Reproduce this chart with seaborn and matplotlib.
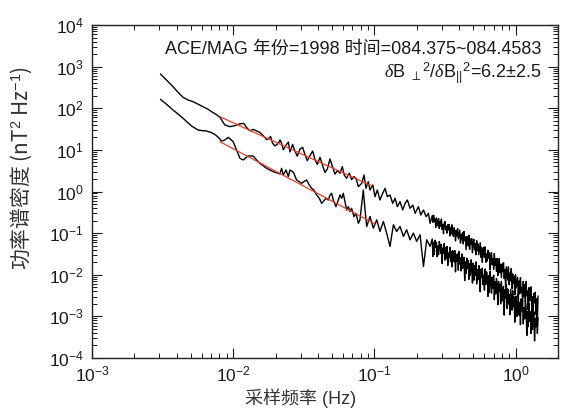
import numpy as np
import pandas as pd
import matplotlib
matplotlib.use("Agg")
import matplotlib.pyplot as plt
import seaborn as sns
from matplotlib.ticker import FixedLocator, LogLocator, NullFormatter

# ---------------- data (log10 values) ----------------
upper_log_freq = [
    -2.515, -2.47, -2.426, -2.39, -2.355, -2.32, -2.284, -2.25, -2.213, -2.18, -2.153, -2.12, -2.094,
    -2.059, -2.023, -1.988, -1.952, -1.924, -1.905, -1.881, -1.858, -1.834, -1.810, -1.787, -1.763,
    -1.747, -1.735, -1.721, -1.704, -1.680, -1.668, -1.657, -1.645, -1.626, -1.609, -1.598,
    -1.579, -1.563, -1.546, -1.527, -1.508, -1.492, -1.475, -1.456, -1.437, -1.421, -1.404, -1.385,
    -1.366, -1.350, -1.333, -1.314, -1.295, -1.279, -1.262, -1.243, -1.227, -1.213, -1.196, -1.177,
    -1.161, -1.144,
    -1.130, -1.113, -1.089, -1.073, -1.059, -1.043, -1.031, -1.011, -0.995, -0.979, -0.960, -0.941,
    -0.924, -0.908, -0.889, -0.870, -0.853, -0.837, -0.818, -0.799, -0.782, -0.766, -0.747, -0.728,
    -0.711, -0.688, -0.671, -0.652, -0.633, -0.617, -0.605]
upper_log_psd = [
    2.823, 2.67, 2.518, 2.38, 2.263, 2.20, 2.158, 2.10, 2.037, 1.98, 1.917, 1.85, 1.783,
    1.598, 1.557, 1.583, 1.627, 1.634, 1.535, 1.458, 1.492, 1.455, 1.418, 1.342, 1.245,
    1.281, 1.322, 1.160, 1.094, 1.157, 1.238, 1.161, 1.003, 1.113, 1.187, 0.950,
    1.131, 0.976, 0.850, 1.020, 1.061, 0.896, 0.740, 0.861, 0.971, 0.777, 0.650, 0.821,
    0.622, 0.457, 0.540, 0.781, 0.582, 0.417, 0.501, 0.441, 0.597, 0.395, 0.319, 0.439,
    0.285, 0.358,
    0.317, 0.116, 0.197, 0.397, 0.077, 0.236, 0.036, 0.157, -0.124, 0.036, -0.204, -0.043,
    0.077, -0.124, -0.084, -0.283, -0.163, -0.364, -0.244, -0.444, -0.283, -0.204, -0.404, -0.324,
    -0.524, -0.364, -0.564, -0.444, -0.605, -0.524, -0.764]

lower_log_freq = [
    -2.515, -2.47, -2.426, -2.39, -2.355, -2.325, -2.295, -2.27, -2.248, -2.22, -2.189, -2.153,
    -2.125, -2.106, -2.082, -2.067, -2.052, -2.035,
    -2.000, -1.976, -1.952, -1.929, -1.894, -1.858, -1.834, -1.811, -1.763, -1.716, -1.669,
    -1.657, -1.645, -1.626, -1.609,
    -1.598, -1.579, -1.570, -1.551, -1.532, -1.515, -1.499, -1.480, -1.461, -1.444, -1.428, -1.409,
    -1.390, -1.373, -1.362, -1.343, -1.326, -1.314, -1.302, -1.291, -1.272, -1.255, -1.243, -1.231,
    -1.220, -1.208, -1.196, -1.184, -1.173, -1.161, -1.144, -1.130, -1.113, -1.102,
    -1.078, -1.066, -1.054, -1.031, -1.007, -0.983, -0.960, -0.936, -0.913, -0.889, -0.865, -0.842,
    -0.818, -0.794, -0.771, -0.747, -0.723, -0.700, -0.676, -0.652, -0.629, -0.605]
lower_log_psd = [
    2.215, 2.09, 1.958, 1.86, 1.759, 1.665, 1.574, 1.52, 1.478, 1.462, 1.454, 1.413,
    1.36, 1.302, 1.214, 1.225, 1.254, 1.302,
    1.197, 0.997, 0.798, 0.757, 0.853, 0.853, 0.757, 0.677, 0.557, 0.476, 0.421,
    0.557, 0.397, 0.517, 0.357,
    0.517, 0.477, 0.437, 0.277, 0.237, 0.197, 0.237, 0.277, 0.157, 0.077, 0.037, -0.083,
    -0.163, -0.284, -0.244, -0.163, -0.204, -0.083, -0.043, -0.204, -0.364, -0.204, -0.083, -0.163,
    -0.043, -0.244, -0.444, -0.364, -0.484, -0.404, -0.604, -0.524, -0.764, -0.684,
    0.037, -0.44, -0.84, -0.60, -0.88, -0.68, -0.96, -0.72, -1.00, -1.32, -0.80, -0.96,
    -0.84, -1.08, -0.92, -1.16, -1.00, -1.20, -1.04, -1.80, -1.16, -1.32]

# dense high-frequency part (shared frequency bins, log10 Hz)
dense_log_freq = [
    -0.590, -0.585, -0.580, -0.575, -0.570, -0.565, -0.560, -0.555, -0.550, -0.545,
    -0.540, -0.535, -0.530, -0.525, -0.520, -0.515, -0.510, -0.505, -0.500, -0.495,
    -0.490, -0.485, -0.480, -0.475, -0.470, -0.465, -0.460, -0.455, -0.450, -0.445,
    -0.440, -0.435, -0.430, -0.425, -0.420, -0.415, -0.410, -0.405, -0.400, -0.395,
    -0.390, -0.385, -0.380, -0.375, -0.370, -0.365, -0.360, -0.355, -0.350, -0.345,
    -0.340, -0.335, -0.330, -0.325, -0.320, -0.315, -0.310, -0.305, -0.300, -0.295,
    -0.290, -0.285, -0.280, -0.275, -0.270, -0.265, -0.260, -0.255, -0.250, -0.245,
    -0.240, -0.235, -0.230, -0.225, -0.220, -0.215, -0.210, -0.205, -0.200, -0.195,
    -0.190, -0.185, -0.180, -0.175, -0.170, -0.165, -0.160, -0.155, -0.150, -0.145,
    -0.140, -0.135, -0.130, -0.125, -0.120, -0.115, -0.110, -0.105, -0.100, -0.095,
    -0.090, -0.085, -0.080, -0.075, -0.070, -0.065, -0.060, -0.055, -0.050, -0.045,
    -0.040, -0.035, -0.030, -0.025, -0.020, -0.015, -0.010, -0.005, 0.000, 0.005,
    0.010, 0.015, 0.020, 0.025, 0.030, 0.035, 0.040, 0.045, 0.050, 0.055,
    0.060, 0.065, 0.070, 0.075, 0.080, 0.085, 0.090, 0.095, 0.100, 0.105,
    0.110, 0.115, 0.120, 0.125, 0.130, 0.135, 0.140, 0.145, 0.150, 0.155,
    0.160]
upper_dense_psd = [
    -0.58, -0.74, -0.57, -0.72, -0.66, -0.86, -0.63, -0.72, -0.82, -0.65,
    -0.89, -0.72, -0.83, -0.66, -0.91, -0.79, -1.01, -0.77, -0.72, -0.92,
    -0.83, -1.00, -0.80, -0.92, -0.79, -1.07, -0.87, -1.02, -0.80, -0.99,
    -1.08, -0.87, -0.96, -1.19, -0.93, -1.07, -0.89, -1.14, -1.03, -0.93,
    -1.24, -1.03, -1.16, -0.99, -1.26, -0.96, -1.18, -1.09, -1.40, -1.08,
    -1.15, -1.31, -1.05, -1.39, -1.14, -1.26, -1.13, -1.47, -1.23, -1.15,
    -1.40, -1.25, -1.52, -1.18, -1.42, -1.26, -1.52, -1.38, -1.23, -1.58,
    -1.34, -1.70, -1.41, -1.34, -1.58, -1.33, -1.70, -1.50, -1.67, -1.41,
    -1.60, -1.47, -1.88, -1.54, -1.47, -1.76, -1.61, -1.87, -1.49, -1.78,
    -1.62, -1.92, -1.61, -2.02, -1.75, -1.61, -1.95, -1.75, -2.07, -1.74,
    -1.93, -1.71, -2.09, -1.87, -2.29, -1.81, -1.97, -2.13, -1.81, -2.24,
    -1.96, -2.15, -1.85, -2.34, -1.98, -2.20, -2.04, -2.48, -2.00, -2.32,
    -2.18, -2.06, -2.53, -2.15, -2.46, -2.07, -2.41, -2.32, -2.66, -2.16,
    -2.53, -2.24, -2.65, -2.16, -2.51, -2.39, -2.85, -2.31, -2.63, -2.40,
    -2.29, -2.78, -2.53, -2.91, -2.45, -2.67, -2.42, -2.95, -2.58, -3.07,
    -2.51]
lower_dense_psd = [
    -1.14, -1.56, -1.22, -1.51, -1.17, -1.34, -1.22, -1.57, -1.31, -1.52,
    -1.20, -1.29, -1.49, -1.27, -1.73, -1.36, -1.48, -1.25, -1.65, -1.35,
    -1.60, -1.32, -1.78, -1.48, -1.59, -1.34, -1.69, -1.44, -1.81, -1.42,
    -1.53, -1.69, -1.42, -1.93, -1.51, -1.68, -1.50, -1.89, -1.44, -1.74,
    -1.59, -1.91, -1.50, -1.85, -1.70, -1.58, -2.14, -1.69, -1.97, -1.60,
    -1.85, -1.66, -2.11, -1.73, -2.01, -1.64, -1.81, -2.20, -1.72, -2.13,
    -1.78, -2.01, -1.69, -2.22, -1.88, -2.12, -1.78, -1.89, -2.41, -1.87,
    -2.06, -1.84, -2.24, -2.01, -2.37, -1.86, -2.23, -1.93, -2.05, -2.52,
    -2.02, -2.43, -1.92, -2.16, -2.44, -2.06, -2.33, -2.01, -2.60, -2.17,
    -2.46, -2.09, -2.24, -2.72, -2.16, -2.39, -2.24, -2.70, -2.16, -2.63,
    -2.37, -2.28, -2.97, -2.36, -2.56, -2.23, -2.81, -2.34, -2.70, -2.48,
    -2.96, -2.36, -2.58, -2.85, -2.38, -2.77, -2.53, -3.14, -2.64, -2.51,
    -3.00, -2.82, -2.46, -2.97, -2.67, -3.20, -2.58, -2.87, -2.67, -3.18,
    -2.79, -3.06, -2.63, -2.77, -3.46, -2.89, -3.25, -2.68, -3.12, -2.89,
    -3.41, -2.80, -3.32, -3.06, -2.89, -3.59, -3.05, -3.25, -2.90, -3.41,
    -3.03]

# power-law fits (end points, log10)
fit_upper_log_freq = [-2.094, -1.018]
fit_upper_log_psd = [1.797, 0.133]
fit_lower_log_freq = [-2.094, -0.995]
fit_lower_log_psd = [1.197, -0.780]

x_ticks = [1e-3, 1e-2, 1e-1, 1e0]
y_ticks = [1e-4, 1e-3, 1e-2, 1e-1, 1e0, 1e1, 1e2, 1e3, 1e4]

title_line1 = "ACE/MAG 年份=1998 时间=084.375~084.4583"
title_line2 = r"$\delta$B $_{\perp}$$^{2}$/$\delta$B$_{||}$$^{2}$=6.2±2.5"
x_label = "采样频率 (Hz)"
y_label = r"功率谱密度 (nT$^{2}$ Hz$^{-1}$)"

# ---------------- build tables ----------------
def make_df(lf, lp, name):
    return pd.DataFrame({"freq": np.power(10.0, lf), "psd": np.power(10.0, lp), "series": name})

df_upper = make_df(upper_log_freq + dense_log_freq, upper_log_psd + upper_dense_psd, "upper")
df_lower = make_df(lower_log_freq + dense_log_freq, lower_log_psd + lower_dense_psd, "lower")
df_fit_u = make_df(fit_upper_log_freq, fit_upper_log_psd, "fit_u")
df_fit_l = make_df(fit_lower_log_freq, fit_lower_log_psd, "fit_l")

# ---------------- style ----------------
sns.set_style("ticks")
plt.rcParams["font.family"] = ["Liberation Sans", "Noto Sans CJK SC", "DejaVu Sans"]
plt.rcParams["mathtext.fontset"] = "custom"
plt.rcParams["mathtext.rm"] = "Liberation Sans"
plt.rcParams["mathtext.it"] = "Liberation Serif:italic"
plt.rcParams["axes.unicode_minus"] = True

text_color = "#1a1a1a"
label_color = "#333333"

fig = plt.figure(figsize=(5.61, 4.08), dpi=100)
ax = fig.add_axes([92 / 561, 50 / 408, 466 / 561, 333 / 408])

for d in (df_upper, df_lower):
    sns.lineplot(data=d, x="freq", y="psd", ax=ax, color="black", linewidth=1.0,
                 sort=False, estimator=None, legend=False)
for d in (df_fit_u, df_fit_l):
    sns.lineplot(data=d, x="freq", y="psd", ax=ax, color="#ee3a25", linewidth=0.9,
                 sort=False, estimator=None, legend=False)

ax.set_xscale("log")
ax.set_yscale("log")
ax.set_xlim(1e-3, 2.0)
ax.set_ylim(1e-4, 1e4)

ax.xaxis.set_major_locator(FixedLocator(x_ticks))
ax.yaxis.set_major_locator(FixedLocator(y_ticks))
ax.xaxis.set_minor_locator(LogLocator(base=10, subs=np.arange(2, 10), numticks=30))
ax.yaxis.set_minor_locator(LogLocator(base=10, subs=np.arange(2, 10), numticks=30))
ax.xaxis.set_minor_formatter(NullFormatter())
ax.yaxis.set_minor_formatter(NullFormatter())

ax.tick_params(which="both", direction="in", top=True, right=True, colors=text_color)
ax.tick_params(which="major", length=7, width=0.8, labelsize=12.5)
ax.tick_params(which="minor", length=3.5, width=0.7)
ax.tick_params(axis="y", which="major", pad=6)
ax.tick_params(axis="x", which="major", pad=5)

for s in ax.spines.values():
    s.set_linewidth(1.0)
    s.set_color("#222222")

ax.set_xlabel(x_label, fontsize=13, color=label_color)
ax.xaxis.set_label_coords(0.448, -0.137)
ax.xaxis.label.set_verticalalignment("baseline")

ax.set_ylabel(y_label, fontsize=15, color=label_color, family=["Noto Sans CJK SC"])
ax.yaxis.set_label_coords(-0.125, 0.57)

ax.text(0.965, 0.913, title_line1, transform=ax.transAxes, ha="right", va="baseline",
        fontsize=13, color=text_color)
ax.text(0.965, 0.840, title_line2, transform=ax.transAxes, ha="right", va="baseline",
        fontsize=13, color=text_color)

fig.savefig("out.png", dpi=100)
